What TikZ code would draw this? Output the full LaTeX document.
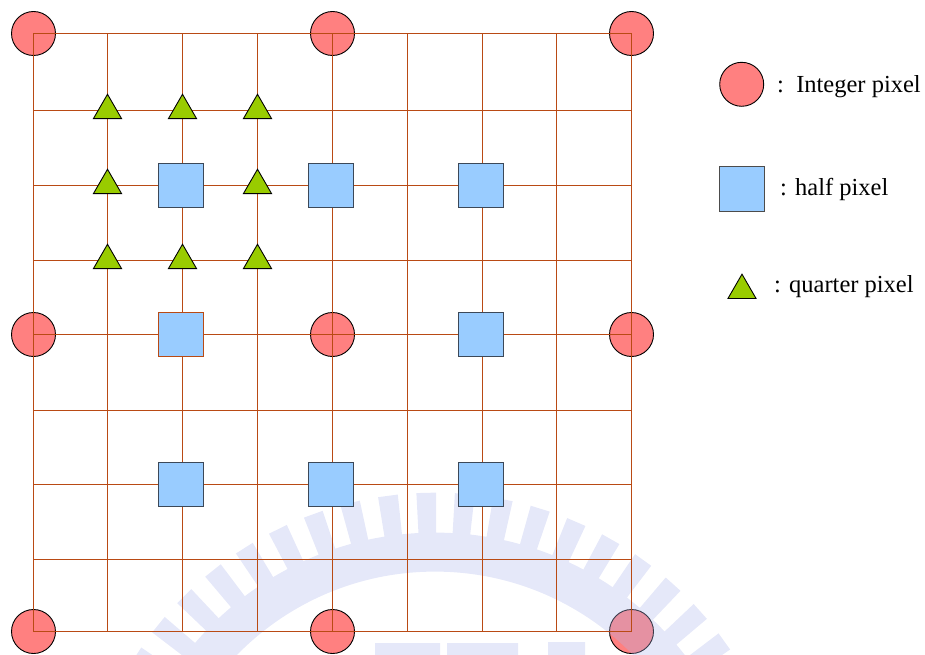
\documentclass[tikz,border=0pt]{standalone}
\usepackage{fontspec}
\setmainfont{Liberation Serif}
\usetikzlibrary{shapes.geometric}
\definecolor{gridline}{RGB}{185,74,20}
\definecolor{intfill}{RGB}{255,128,128}
\definecolor{halffill}{RGB}{153,204,255}
\definecolor{halfedge}{RGB}{60,72,88}
\definecolor{quarterfill}{RGB}{153,204,0}
\definecolor{emblem}{RGB}{175,182,235}

\begin{document}
\begin{tikzpicture}[x=1bp,y=-1bp,
  intpix/.style={circle,draw=black,line width=0.9pt,fill=intfill,minimum size=44bp,inner sep=0pt},
  halfpix/.style={rectangle,draw=halfedge,line width=1.1pt,fill=halffill,minimum size=44.5bp,inner sep=0pt},
  quarterpix/.style={regular polygon,regular polygon sides=3,draw=black,line width=0.9pt,fill=quarterfill,minimum size=32.5bp,inner sep=0pt},
  gridrule/.style={draw=gridline,line width=1.3bp},
  legendtext/.style={anchor=base west,inner sep=0pt,font=\fontsize{24.5bp}{29bp}\selectfont}
]
\useasboundingbox (0,0) rectangle (925,655);

% sampling positions of the 9 x 9 grid
\foreach \xx [count=\i from 0] in {33.5,107.5,182.5,257.5,332.5,407.5,482.5,556.5,631.5}
  \foreach \yy [count=\j from 0] in {33.5,110.5,185.5,260.5,334.5,410.5,484.5,559.5,631.5}
    \coordinate (g-\i-\j) at (\xx,\yy);

% integer pixels (drawn first, the grid runs over them)
\foreach \i in {0,4,8}
  \foreach \j in {0,4,8}
    \node[intpix] (int-\i-\j) at (g-\i-\j) {};

% faint emblem in the background
\begin{scope}
  \clip (0,0) rectangle (925,655);
  \fill[emblem,opacity=0.32,even odd rule]
    (435,848.6) circle[radius=316] (435,848.6) circle[radius=277]
    foreach \a in {-172,-165.8,...,-8} {
      ([shift={(435,848.6)}]{\a-1.6}:316.2) -- ([shift={(435,848.6)}]{\a-1.6}:356)
      -- ([shift={(435,848.6)}]{\a+1.6}:356) -- ([shift={(435,848.6)}]{\a+1.6}:316.2) -- cycle
    }
    (375,643) rectangle (440,660)
    (447,643) rectangle (518,660)
    (548,642) rectangle (585,660);
\end{scope}

% sampling grid
\foreach \k in {0,...,8} {
  \draw[gridrule] (g-\k-0) -- (g-\k-8);
  \draw[gridrule] (g-0-\k) -- (g-8-\k);
}

% half pixels
\foreach \i/\j in {2/2,4/2,6/2,6/4,2/6,4/6,6/6}
  \node[halfpix] (half-\i-\j) at ([xshift=-1.5bp]g-\i-\j) {};
\node[halfpix,draw=gridline] (half-2-4) at ([xshift=-1.5bp]g-2-4) {};

% quarter pixels
\foreach \i/\j in {1/1,2/1,3/1,1/2,3/2,1/3,2/3,3/3}
  \node[quarterpix] (quarter-\i-\j) at (g-\i-\j) {};

% legend
\node[intpix] (key-int) at (741.7,84.3) {};
\node[halfpix,draw=black!70] (key-half) at (741.8,189.2) {};
\node[quarterpix] (key-quarter) at (742,290.4) {};
\node[legendtext] (lab-int) at (777,92.3) {:\ \ Integer pixel};
\node[legendtext] (lab-half) at (780,195.7) {: half pixel};
\node[legendtext] (lab-quarter) at (774,292.3) {: quarter pixel};
\end{tikzpicture}
\end{document}
